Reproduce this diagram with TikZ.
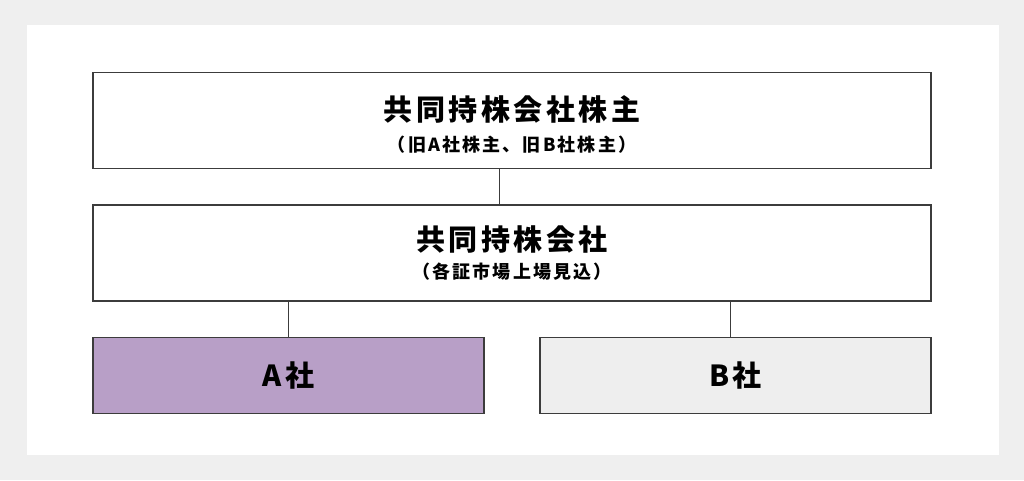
\documentclass[tikz,border=0pt]{standalone}
\usepackage{fontspec}
\setmainfont{Noto Sans CJK JP}[LetterSpace=12]
\usetikzlibrary{positioning}
\definecolor{bggray}{HTML}{EFEFEF}
\definecolor{linegray}{HTML}{3C3C3C}
\definecolor{apurple}{HTML}{B89FC7}
\definecolor{bfill}{HTML}{EEEEEE}

\begin{document}
\begin{tikzpicture}[x=1pt,y=-1pt,node distance=35pt,
  every node/.style={draw=linegray,line width=1.5pt,align=center,inner sep=0pt},
  wide/.style={minimum width=838pt,minimum height=96pt,fill=white},
  half/.style={minimum width=391pt,minimum height=76pt},
  big/.style={font=\bfseries\fontsize{29}{35}\selectfont}]
  \useasboundingbox[fill=bggray] (0,0) rectangle (1024,480);
  \fill[white] (27,25) rectangle (999,455);
  \node (owners) [wide] at (512,120.5) {
    {\bfseries\fontsize{29}{35}\selectfont \rule{0pt}{33pt}共同持株会社株主}\\[12pt]
    {\bfseries\fontsize{18}{22}\selectfont （旧A社株主、旧B社株主）}
  };
  \node (holding) [wide,below=of owners] {
    {\bfseries\fontsize{29}{35}\selectfont 共同持株会社}\\[8pt]
    {\bfseries\fontsize{18}{22}\selectfont （各証市場上場見込）}
  };
  \node (a) [half,big,fill=apurple,below right=35pt and 0pt of holding.south west] {A社};
  \node (b) [half,big,fill=bfill,below left=35pt and 0pt of holding.south east] {B社};
  \draw[linegray,line width=1pt] ([xshift=-13pt]owners.south) -- ([xshift=-13pt]holding.north);
  \draw[linegray,line width=1pt] (holding.south -| a.north) -- (a.north);
  \draw[linegray,line width=1pt] ([xshift=-5pt]holding.south -| b.north) -- ([xshift=-5pt]b.north);
\end{tikzpicture}
\end{document}
